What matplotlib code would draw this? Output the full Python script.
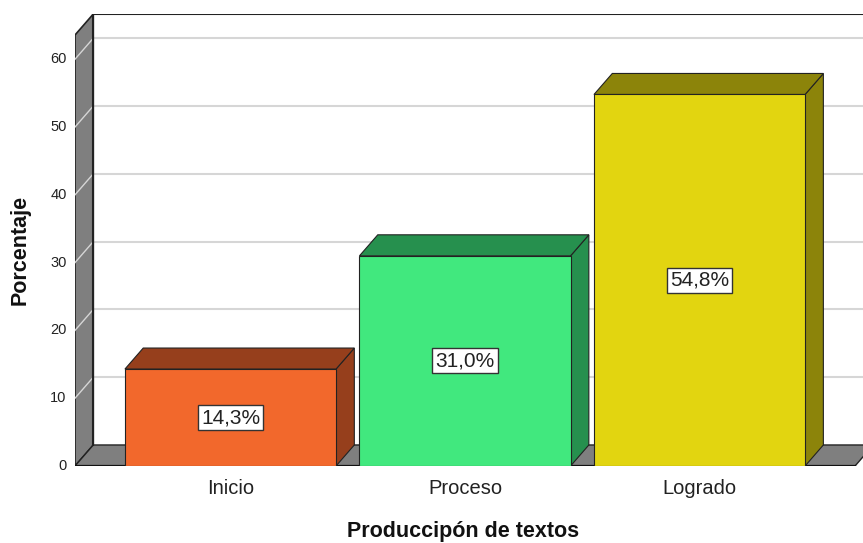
import matplotlib.pyplot as plt
from matplotlib.patches import Polygon, Rectangle

plt.rcParams['font.family'] = ['Liberation Sans', 'DejaVu Sans']

# Data
categorias = ["Inicio", "Proceso", "Logrado"]
porcentajes = [14.3, 31.0, 54.8]
etiquetas = ["14,3%", "31,0%", "54,8%"]
y_ticks = [0, 10, 20, 30, 40, 50, 60]

# Colors (front face, top/side face)
front_colors = ["#F2682C", "#41E87E", "#E2D510"]
dark_colors = ["#963F1C", "#26904E", "#8C840A"]
wall_gray = "#7F7F7F"
grid_gray = "#D6D6D6"

# 3D look
dx = 0.078      # depth offset in x (category units)
dy = 3.1        # depth offset in y (percent units)
bar_w = 0.9
x_left = -0.663
x_right = 2.697
floor_right = 2.663
y_top = 66.67
wall_top = y_top - dy

fig = plt.figure(figsize=(8.63, 5.43), dpi=100)
ax = fig.add_axes([75 / 863, 77 / 543, 1 - 75 / 863, (466 - 14) / 543])
ax.set_xlim(x_left, x_right)
ax.set_ylim(0, y_top)
ax.axis('off')

# Back wall
ax.add_patch(Rectangle((x_left + dx, dy), x_right + 1 - x_left - dx, wall_top,
                       facecolor='white', edgecolor='none', zorder=0))
ax.plot([x_left + dx, x_right + 1], [y_top, y_top], color='#222222', lw=1.5, zorder=1)
ax.plot([x_left + dx, x_left + dx], [dy, y_top], color='#222222', lw=1.5, zorder=3)

# Gridlines on back wall and left wall
for v in y_ticks[1:]:
    ax.plot([x_left + dx, x_right + 1], [v + dy, v + dy], color=grid_gray, lw=1.5, zorder=1)

# Left wall
ax.add_patch(Polygon([(x_left, 0), (x_left + dx, dy), (x_left + dx, y_top), (x_left, wall_top)],
                     closed=True, facecolor=wall_gray, edgecolor='#222222', lw=1.2, zorder=2))
for v in y_ticks[1:]:
    ax.plot([x_left, x_left + dx], [v, v + dy], color=grid_gray, lw=1.0, zorder=2)

# Floor
ax.add_patch(Polygon([(x_left, 0), (floor_right, 0), (floor_right + dx, dy), (x_left + dx, dy)],
                     closed=True, facecolor=wall_gray, edgecolor='#222222', lw=1.0, zorder=2))
ax.plot([x_left, floor_right], [0, 0], color='#111111', lw=1.6, zorder=3)

# Bars
for i, (val, fc, dc) in enumerate(zip(porcentajes, front_colors, dark_colors)):
    x0 = i - bar_w / 2
    x1 = i + bar_w / 2
    side = Polygon([(x1, 0), (x1 + dx, dy), (x1 + dx, val + dy), (x1, val)],
                   closed=True, facecolor=dc, edgecolor='#222222', lw=0.8, zorder=4)
    top = Polygon([(x0, val), (x1, val), (x1 + dx, val + dy), (x0 + dx, val + dy)],
                  closed=True, facecolor=dc, edgecolor='#222222', lw=0.8, zorder=4)
    front = Rectangle((x0, 0), bar_w, val, facecolor=fc, edgecolor='#222222', lw=0.8, zorder=5)
    ax.add_patch(side)
    ax.add_patch(top)
    ax.add_patch(front)
    ax.text(i, val / 2, etiquetas[i], ha='center', va='center', fontsize=15, color='#222222',
            zorder=6, bbox=dict(boxstyle='square,pad=0.14', facecolor='white',
                                edgecolor='#333333', lw=1.0))

# Category labels
for i, cat in enumerate(categorias):
    ax.annotate(cat, xy=(i, 0), xytext=(0, -16), textcoords='offset points',
                ha='center', va='center', fontsize=14.5, color='#222222', annotation_clip=False)

# Y tick labels
for v in y_ticks:
    ax.annotate(str(v), xy=(x_left, v), xytext=(-6, 0), textcoords='offset points',
                ha='right', va='center', fontsize=10.5, color='#222222', annotation_clip=False)

fig.text(20 / 863, 1 - 250 / 543, "Porcentaje", rotation=90, ha='center', va='center',
         fontsize=15.5, fontweight='bold', color='#111111')
fig.text(463 / 863, 1 - 531 / 543, "Produccipón de textos", ha='center', va='center',
         fontsize=15.5, fontweight='bold', color='#111111')

fig.savefig("out.png", dpi=100)
